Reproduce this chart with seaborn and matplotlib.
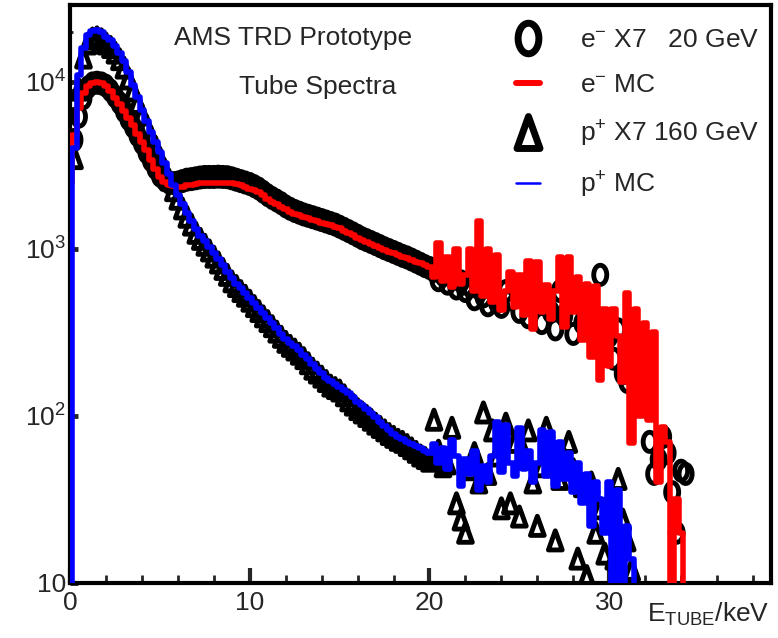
import numpy as np
import pandas as pd
import seaborn as sns
import matplotlib

matplotlib.use("Agg")
from matplotlib import pyplot as plt, font_manager
from matplotlib.lines import Line2D
from matplotlib.markers import MarkerStyle
from matplotlib.path import Path
from matplotlib.ticker import MultipleLocator, LogLocator, NullFormatter

nan = np.nan

# histogram bin centres (keV), 0.25 keV bins -> one row below = 1 keV
energy_kev = np.arange(0.0, 35.01, 0.25)

# e- Monte Carlo (red)
e_mc = [2500, 4800, 7000, 8600,
        9500, 9900, 10000, 9800,
        9400, 8800, 8000, 7400,
        6700, 6100, 5500, 4900,
        4400, 3900, 3400, 3000,
        2700, 2520, 2420, 2370,
        2350, 2360, 2400, 2420,
        2450, 2470, 2480, 2490,
        2500, 2500, 2500, 2490,
        2470, 2440, 2400, 2350,
        2300, 2250, 2200, 2100,
        1980, 1910, 1850, 1790,
        1730, 1670, 1620, 1590,
        1560, 1530, 1500, 1470,
        1440, 1410, 1390, 1360,
        1330, 1290, 1250, 1210,
        1170, 1130, 1100, 1070,
        1040, 1010, 990, 965,
        940, 920, 900, 880,
        860, 840, 820, 800,
        780, 680, 1080, 640,
        900, 590, 1000, 620,
        700, 1000, 560, 1480,
        520, 1000, 480, 915,
        430, 560, 730, 450,
        700, 400, 850, 330,
        830, 420, 610, 380,
        560, 900, 340, 890,
        420, 680, 285, 620,
        225, 600, 165, 440,
        200, 440, 300, 160,
        545, 69, 440, 100,
        360, 95, 318, 40,
        86, 70, 3, 32,
        20, 1, nan, nan,
        nan]

# p+ Monte Carlo (blue)
p_mc = [2, 4000, 11000, 16000,
        19000, 20300, 20500, 20000,
        18700, 17800, 16500, 15000,
        13300, 11400, 9600, 8100,
        6800, 5800, 5000, 4350,
        3800, 3250, 2800, 2400,
        2100, 1850, 1650, 1470,
        1320, 1200, 1120, 1030,
        950, 870, 800, 730,
        670, 620, 580, 545,
        510, 475, 445, 415,
        385, 360, 335, 310,
        290, 275, 262, 247,
        232, 218, 205, 192,
        180, 170, 162, 155,
        150, 144, 138, 130,
        122, 116, 110, 104,
        98, 92, 87, 82,
        78, 75, 73, 70,
        68, 66, 64, 62,
        60, 68, 52, 64,
        48, 72, 58, 38,
        55, 45, 62, 36,
        50, 40, 58, 92,
        46, 88, 52, 44,
        85, 48, 62, 40,
        52, 82, 44, 80,
        38, 70, 42, 60,
        35, 52, 30, 45,
        22, 40, 32, 20,
        40, 8, 36, 5,
        22, 14, 1, nan,
        nan, nan, nan, nan,
        nan, nan, nan, nan,
        nan, nan, nan, nan,
        nan]

# e- X7 20 GeV beam data (circles)
e_data = [nan, 4500, 6200, 8000,
          9300, 9800, 9900, 9800,
          9500, 8900, 8200, 7500,
          6700, 6000, 5400, 4800,
          4300, 3800, 3400, 3050,
          2750, 2600, 2500, 2480,
          2500, 2550, 2600, 2620,
          2650, 2680, 2700, 2700,
          2700, 2710, 2700, 2690,
          2650, 2600, 2550, 2500,
          2450, 2380, 2300, 2200,
          2100, 2020, 1950, 1880,
          1800, 1740, 1690, 1650,
          1610, 1580, 1550, 1520,
          1490, 1460, 1430, 1400,
          1360, 1320, 1280, 1240,
          1200, 1160, 1130, 1100,
          1070, 1040, 1010, 985,
          960, 935, 910, 890,
          865, 840, 815, 790,
          770, 740, 650, 700,
          620, 680, 580, 640,
          560, 600, 500, 580,
          520, 460, 620, 480,
          450, 560, 500, 600,
          420, 540, 390, 520,
          470, 360, 500, 420,
          330, 560, 400, 480,
          310, 480, 360, 420,
          380, 330, 700, 260,
          300, 220, 330, 180,
          160, 200, 145, 120,
          190, 70, 45, 55,
          75, 60, 35, 20,
          47, 45, nan, nan,
          nan]

# p+ X7 160 GeV beam data (triangles)
p_data = [nan, 3500, 9000, 14000,
          17000, 18200, 18500, 18000,
          17000, 16200, 15000, 13700,
          12200, 10500, 8900, 7500,
          6400, 5500, 4700, 4100,
          3500, 3000, 2600, 2250,
          2000, 1750, 1560, 1400,
          1250, 1150, 1060, 980,
          900, 830, 760, 700,
          640, 600, 560, 525,
          490, 455, 425, 395,
          370, 345, 320, 298,
          278, 263, 250, 236,
          222, 207, 192, 182,
          172, 162, 152, 147,
          142, 133, 124, 117,
          110, 105, 100, 95,
          90, 86, 82, 78,
          75, 72, 70, 67,
          64, 61, 58, 56,
          54, 95, 62, 50,
          52, 85, 30, 24,
          20, 48, 60, 40,
          105, 45, 82, 58,
          28, 90, 30, 70,
          25, 60, 82, 40,
          22, 50, 85, 60,
          18, 42, 55, 70,
          48, 14, 38, 11,
          40, 20, 28, 15,
          30, 14, 42, 24,
          18, 12, nan, nan,
          nan, nan, nan, nan,
          nan, nan, nan, nan,
          nan, nan, nan, nan,
          nan]

x_ticks = [0, 10, 20, 30]
x_tick_labels = ["0", "10", "20", "30"]
y_ticks = [10, 100, 1000, 10000]
y_tick_labels = ["10", "$10^{2}$", "$10^{3}$", "$10^{4}$"]
legend_labels = ["e$^{-}$ X7   20 GeV", "e$^{-}$ MC", "p$^{+}$ X7 160 GeV", "p$^{+}$ MC"]

df = pd.DataFrame({"E": energy_kev, "e_mc": e_mc, "p_mc": p_mc,
                   "e_data": e_data, "p_data": p_data})

sns.set_style("ticks")
installed = {f.name for f in font_manager.fontManager.ttflist}
narrow = "Liberation Sans Narrow" in installed
main_font = "Liberation Sans Narrow" if narrow else "Liberation Sans"
plt.rcParams["font.family"] = [main_font, "DejaVu Sans"]
plt.rcParams["mathtext.fontset"] = "custom"
plt.rcParams["mathtext.rm"] = main_font
plt.rcParams["mathtext.it"] = main_font
plt.rcParams["mathtext.bf"] = main_font
fs = 23 if narrow else 19

# squeezed markers, like the original picture
theta = np.linspace(0, 2 * np.pi, 61)
ring = MarkerStyle(Path(np.column_stack([0.68 * np.sin(theta), np.cos(theta)]), closed=True))
tri = MarkerStyle(Path([[0, 1], [-0.72, -1], [0.72, -1], [0, 1]], closed=True))

fig = plt.figure(figsize=(7.78, 6.38), dpi=100)
ax = fig.add_axes([70 / 778, 55 / 638, 701 / 778, 578 / 638])

sns.scatterplot(data=df, x="E", y="e_data", marker=ring, s=190, facecolor="none",
                edgecolor="black", linewidth=3.5, ax=ax, zorder=2)
sns.scatterplot(data=df, x="E", y="p_data", marker=tri, s=190, facecolor="none",
                edgecolor="black", linewidth=3.5, ax=ax, zorder=2)
sns.lineplot(data=df, x="E", y="e_mc", color="red", lw=4, drawstyle="steps-mid",
             estimator=None, sort=False, ax=ax, zorder=3)
sns.lineplot(data=df, x="E", y="p_mc", color="blue", lw=4, drawstyle="steps-mid",
             estimator=None, sort=False, ax=ax, zorder=3)

ax.set_yscale("log")
ax.set_xlim(0, 39)
ax.set_ylim(10, 28900)
ax.set_xticks(x_ticks, labels=x_tick_labels)
ax.xaxis.set_minor_locator(MultipleLocator(2))
ax.set_yticks(y_ticks, labels=y_tick_labels)
ax.yaxis.set_minor_locator(LogLocator(base=10, subs=np.arange(2, 10)))
ax.yaxis.set_minor_formatter(NullFormatter())
ax.tick_params(axis="x", which="major", direction="in", length=11, width=3, pad=6, labelsize=fs)
ax.tick_params(axis="x", which="minor", direction="in", length=6, width=2)
ax.tick_params(axis="y", which="major", direction="in", length=5.5, width=3.5, pad=3, labelsize=fs)
ax.tick_params(axis="y", which="minor", direction="in", length=2.5, width=2)
for sp in ax.spines.values():
    sp.set_linewidth(3)
    sp.set_color("black")

ax.set_ylabel("")
ax.set_xlabel(r"E$_{\mathrm{TUBE}}$/keV", fontsize=fs, loc="right")
ax.xaxis.set_label_coords(0.998, -0.03)

ax.text(0.318, 0.931, "AMS TRD Prototype", transform=ax.transAxes, ha="center",
        va="baseline", fontsize=fs)
ax.text(0.354, 0.846, "Tube Spectra", transform=ax.transAxes, ha="center",
        va="baseline", fontsize=fs)

handles = [
    Line2D([], [], ls="none", marker=ring, ms=22, mew=5, mfc="none", mec="black"),
    Line2D([], [], color="red", lw=4.3),
    Line2D([], [], ls="none", marker=tri, ms=23, mew=5, mfc="none", mec="black"),
    Line2D([], [], color="blue", lw=1.8),
]
ax.legend(handles, legend_labels, loc="upper left", bbox_to_anchor=(516 / 778, 610 / 638),
          bbox_transform=fig.transFigure, frameon=False, fontsize=fs, handlelength=0.91,
          handletextpad=1.5, labelspacing=0.8, borderpad=0, borderaxespad=0)

fig.savefig("out.png", dpi=100)
